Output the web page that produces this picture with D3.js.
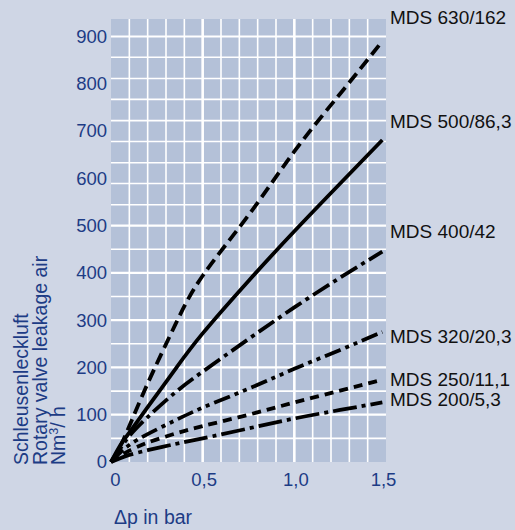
<!DOCTYPE html>
<html>
<head>
<meta charset="utf-8">
<script src="https://cdn.jsdelivr.net/npm/d3@7"></script>
<style>
  body { margin: 0; background: #cfd6e5; }
  svg { display: block; font-family: "Liberation Sans", Arial, sans-serif; }
</style>
</head>
<body>
<svg id="chart"></svg>
<script>
// Pressure difference (bar) sample points shared by all curves
const pressure = [0, 0.05, 0.1, 0.2, 0.35, 0.5, 0.75, 1.0, 1.25, 1.48];

// Leakage air (Nm3/h) per rotary valve size
const mds630 = [0, 33, 76, 166, 290, 394, 522, 657, 779, 890];
const mds500 = [0, 35, 62, 116, 196, 272, 383, 488, 589, 681];
const mds400 = [0, 28, 55, 95, 147, 191, 260, 327, 390, 445];
const mds320 = [0, 20, 36, 59, 88, 115, 155, 197, 237, 275];
const mds250 = [0, 13, 24, 41, 60, 76, 100, 126, 151, 174];
const mds200 = [0, 8, 15, 25, 38, 50, 71, 92, 110, 126];

const seriesNames = ["MDS 630/162", "MDS 500/86,3", "MDS 400/42", "MDS 320/20,3", "MDS 250/11,1", "MDS 200/5,3"];
const seriesValues = [mds630, mds500, mds400, mds320, mds250, mds200];

// Axis ticks and grid
const xTicks = [0, 0.5, 1.0, 1.5];
const yTicks = [0, 100, 200, 300, 400, 500, 600, 700, 800, 900];
const xGrid = [0.1, 0.2, 0.3, 0.4, 0.5, 0.6, 0.7, 0.8, 0.9, 1.0, 1.1, 1.2, 1.3, 1.4];
const yGrid = [50, 100, 150, 200, 250, 300, 350, 400, 450, 500, 544, 589, 633, 678, 722, 767, 811, 856, 900];

const W = 515, H = 530;
const plot = { left: 111, right: 386, top: 19, bottom: 462 };
const blue = "#1d3c85";

const svg = d3.select("#chart")
    .attr("width", W)
    .attr("height", H);

svg.append("rect")
    .attr("width", W).attr("height", H)
    .attr("fill", "#cfd6e5");

const x = d3.scaleLinear()
    .domain([0, 1.5])
    .range([plot.left, plot.right]);

const y = d3.scaleLinear()
    .domain([0, 937])
    .range([plot.bottom, plot.top]);

// plot background
svg.append("rect")
    .attr("x", x(0))
    .attr("y", y(937))
    .attr("width", x(1.5) - x(0))
    .attr("height", y(0) - y(937))
    .attr("fill", "#b4c1d8");

// grid
svg.append("g")
    .selectAll("line")
    .data(xGrid)
    .join("line")
    .attr("x1", d => x(d)).attr("x2", d => x(d))
    .attr("y1", y(0)).attr("y2", y(937))
    .attr("stroke", "#fff")
    .attr("stroke-width", d => (d === 0.5 || d === 1.0) ? 2.6 : 1.6);

svg.append("g")
    .selectAll("line")
    .data(yGrid)
    .join("line")
    .attr("x1", x(0)).attr("x2", x(1.5))
    .attr("y1", d => y(d)).attr("y2", d => y(d))
    .attr("stroke", "#fff")
    .attr("stroke-width", d => (d % 100 === 0 && d <= 500) || d === 900 ? 2.2 : 1.6);

// axes (labels only)
const yAxis = svg.append("g")
    .attr("transform", `translate(${plot.left - 4},0)`)
    .call(d3.axisLeft(y).tickValues(yTicks).tickSize(0).tickPadding(0));
yAxis.select(".domain").remove();
yAxis.selectAll("text")
    .attr("fill", blue)
    .attr("font-size", 18.5)
    .attr("font-family", "Liberation Sans, Arial, sans-serif");

const xAxis = svg.append("g")
    .attr("transform", `translate(0,${plot.bottom + 11})`)
    .call(d3.axisBottom(x).tickValues(xTicks).tickSize(0).tickPadding(0)
        .tickFormat(d => d3.format(".1f")(d).replace(".", ",").replace(/^0,0$/, "0")));
xAxis.select(".domain").remove();
xAxis.selectAll("text")
    .attr("fill", blue)
    .attr("font-size", 18.5)
    .attr("font-family", "Liberation Sans, Arial, sans-serif")
    .attr("dx", d => d === 0 ? 4 : d === 1.5 ? -3 : 1);

// curves
const dashes = ["12,6", null, "19,5,4,5", "17,5,4,5,4,5", "9,6", "24,5,4,5"];

const line = d3.line()
    .x(d => x(d[0]))
    .y(d => y(d[1]))
    .curve(d3.curveNatural);

svg.append("g")
    .selectAll("path")
    .data(seriesValues)
    .join("path")
    .attr("d", vals => line(pressure.map((p, i) => [p, vals[i]])))
    .attr("fill", "none")
    .attr("stroke", "#000")
    .attr("stroke-width", 3.8)
    .attr("stroke-dasharray", (d, i) => dashes[i]);

// series labels next to the curve ends
const labelNudge = [-24.5, -19, -20, 4.5, -0.5, -3];
svg.append("g")
    .selectAll("text")
    .data(seriesNames)
    .join("text")
    .attr("x", plot.right + 4)
    .attr("y", (d, i) => y(seriesValues[i][seriesValues[i].length - 1]) + labelNudge[i])
    .attr("dy", "0.36em")
    .attr("font-size", 19)
    .attr("fill", "#111")
    .text(d => d);

// axis titles
const yTitle = svg.append("text")
    .attr("transform", "translate(28,465) rotate(-90)")
    .attr("font-size", 19.5)
    .attr("fill", blue);
yTitle.append("tspan").attr("x", 0).attr("y", 0).text("Schleusenleckluft");
yTitle.append("tspan").attr("x", 0).attr("y", 18.5).text("Rotary valve leakage air");
yTitle.append("tspan").attr("x", 0).attr("y", 37).text("Nm");
yTitle.append("tspan").attr("dy", -7).attr("font-size", 12.5).text("3");
yTitle.append("tspan").attr("dy", 7).text("/ h");

svg.append("text")
    .attr("x", 114)
    .attr("y", 524)
    .attr("font-size", 19.5)
    .attr("fill", blue)
    .text("Δp in bar");
</script>
</body>
</html>
